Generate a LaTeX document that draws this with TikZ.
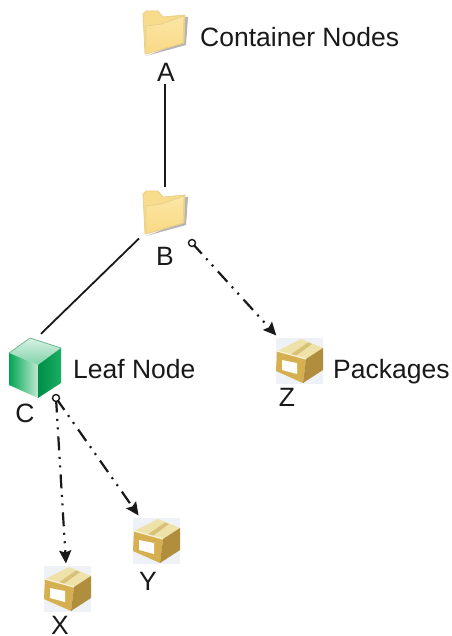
\documentclass[tikz,border=0pt]{standalone}
\usepackage{fontspec}
\setmainfont{Liberation Sans}
\usetikzlibrary{arrows.meta}
\definecolor{fbk}{HTML}{F8DC8C}
\definecolor{ffr}{HTML}{FBE6A4}
\definecolor{ffb}{HTML}{FAD985}
\definecolor{fed}{HTML}{E8CF8A}
\definecolor{btop}{HTML}{EFE2A8}
\definecolor{bstrip}{HTML}{D8C27A}
\definecolor{bleft}{HTML}{D6B050}
\definecolor{bright}{HTML}{B08E3E}
\definecolor{bbg}{HTML}{EEF1F5}
\definecolor{gdark}{HTML}{00A651}
\tikzset{
  x=1pt,y=-1pt,
  lab/.style={font=\fontsize{26.5}{30}\selectfont,inner sep=0pt,text=black!90},
  icon/.style={inner sep=0pt,outer sep=2.5pt,minimum width=#1,minimum height=46pt},
  icon/.default=47pt,
  solidline/.style={line width=1.8pt,black!90},
  dd/.style={line width=2.2pt,black!90,dash pattern=on 14pt off 6.5pt on 2pt off 6.5pt on 2pt off 7pt,dash phase=3pt,-{Stealth[length=13pt,width=12pt,inset=2pt]}},
  ring/.style={circle,draw=black!90,fill=white,line width=1.4pt,minimum size=7pt,inner sep=0pt,outer sep=0pt}
}
\newcommand{\folderico}[2]{%
  \begin{scope}[shift={(#1,#2)}]
    \fill[black!50,opacity=.6] (3,46) -- (43,35) -- (45,7) -- (41,7) -- (40,32) -- cycle;
    \filldraw[fill=fbk,draw=fed,line width=.8pt,line join=round] (0,4) -- (3,1) -- (15,1) -- (20,7) -- (42,5) -- (41,33) -- (2,44) -- cycle;
    \shade[top color=ffr,bottom color=ffb,draw=fed,line width=.8pt,line join=round] (3,16) -- (18,14) -- (41,6) -- (40,33) -- (3,44) -- cycle;
  \end{scope}}
\newcommand{\boxico}[2]{%
  \begin{scope}[shift={(#1,#2)}]
    \fill[bbg] (0,0) rectangle (47,46);
    \fill[btop] (1,13) -- (25,1) -- (47,10) -- (30,21) -- cycle;
    \fill[bstrip] (14,17) -- (32,4.5) -- (36,6) -- (19,18.5) -- cycle;
    \fill[bleft] (1,13) -- (30,21) -- (27,45) -- (0,33) -- cycle;
    \fill[bright] (30,21) -- (47,10) -- (47,32) -- (27,45) -- cycle;
    \fill[white] (6,22) -- (21,25) -- (21,36) -- (6,32) -- cycle;
    \draw[white!60!btop,line width=1.2pt] (1,13) -- (30,21);
  \end{scope}}
\begin{document}
\begin{tikzpicture}
\useasboundingbox (0,0) rectangle (451,636);
% folders
\folderico{143}{10}
\folderico{143}{190}
% cube
\shade[top color=white!85!gdark,bottom color=gdark!50!white] (30,338) -- (61,348) -- (38,365) -- (9,353) -- cycle;
\draw[gdark!55!gray!70,line width=.8pt,line join=round] (9,353) -- (30,338) -- (61,348);
\shade[left color=gdark,right color=gdark!25!white] (9,353) -- (38,365) -- (38,398) -- (9,385) -- cycle;
\shade[left color=gdark!85!black,right color=gdark!90!white] (38,365) -- (61,348) -- (61,383) -- (38,398) -- cycle;
% boxes
\boxico{276}{338}
\boxico{133}{518}
\boxico{44}{566}
% nodes
\node[icon=44pt] (iconA) at (165,33) {};
\node[icon=44pt] (iconB) at (165,213) {};
\node[inner sep=0pt,minimum width=52pt,minimum height=60pt] (iconC) at (35,368) {};
\node[icon] (iconZ) at (299.5,361) {};
\node[icon] (iconY) at (156.5,541) {};
\node[icon] (iconX) at (67.5,589) {};
\node[lab] (labA) at (166,72) {A};
\node[lab] (labB) at (165,256) {B};
\node[lab] (labC) at (25,413) {C};
\node[lab] (labZ) at (287,397) {Z};
\node[lab] (labY) at (148,581) {Y};
\node[lab] (labX) at (60,625) {X};
\node[lab,anchor=base west] (tCont) at (200,47) {Container Nodes};
\node[lab,anchor=base west] (tLeaf) at (73,378) {Leaf Node};
\node[lab,anchor=base west] (tPack) at (333,378) {Packages};
\node[ring] (rB) at (192,243) {};
\node[ring] (rC) at (56,398) {};
% connectors
\draw[solidline] ([yshift=-3pt]iconB.north |- labA.south) -- (iconB.north);
\draw[solidline] ([shift={(-1.5pt,0pt)}]iconB.south west) -- ([shift={(6pt,4pt)}]iconC.north);
\draw[dd] (rB) -- (iconZ);
\draw[dd] (rC) -- (iconY);
\draw[dd] (rC) -- (iconX);
\end{tikzpicture}
\end{document}
